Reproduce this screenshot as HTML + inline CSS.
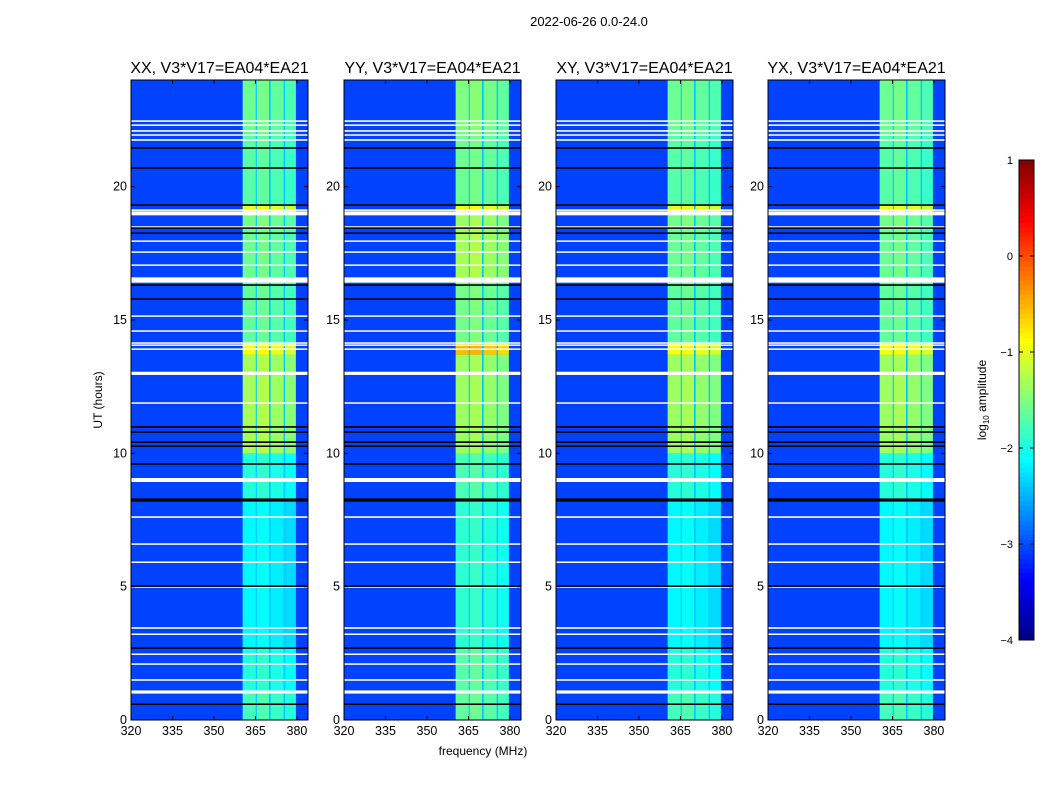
<!DOCTYPE html>
<html><head><meta charset="utf-8"><style>
body{margin:0;background:#fff;width:1050px;height:800px;overflow:hidden;font-family:"Liberation Sans",sans-serif}
</style></head><body>
<svg id="fig" width="1050" height="800" xmlns="http://www.w3.org/2000/svg" font-family="Liberation Sans, sans-serif">
<text x="589" y="26" font-size="13" text-anchor="middle">2022-06-26 0.0-24.0</text>
<text x="483" y="755" font-size="12" text-anchor="middle">frequency (MHz)</text>
<text x="102" y="400" font-size="12" text-anchor="middle" transform="rotate(-90 102 400)">UT (hours)</text>
<g id="panels"></g>
<g id="cbar"></g>
<text x="986" y="400" font-size="12" text-anchor="middle" transform="rotate(-90 986 400)">log<tspan font-size="8" dy="3">10</tspan><tspan dy="-3"> amplitude</tspan></text>
</svg>
<script>
const panelTitles=["XX, V3*V17=EA04*EA21","YY, V3*V17=EA04*EA21","XY, V3*V17=EA04*EA21","YX, V3*V17=EA04*EA21"];
const panelLefts=[131,344,556,768];
const xTicks=[320,335,350,365,380];
const yTicks=[0,5,10,15,20];
const cbTicks=[1,0,-1,-2,-3,-4];
const background=-3.05;
const separator=-2.4;
const bandStart=[360.4,365.5,370.5,375.7];
const bandEnd=[365.1,369.9,375.2,379.6];
const bandOffset=[0.05,0.1,0,-0.1];
const segStart=[0,1.1,2.7,5,8.2,10,13.7,14.1,16.4,18.3,19,19.3,22];
const segEnd=[1.1,2.7,5,8.2,10,13.7,14.1,16.4,18.3,19,19.3,22,24];
const xxVals=[-1.85,-2.0,-2.2,-2.2,-2.0,-1.35,-0.95,-1.7,-1.65,-1.6,-1.0,-1.75,-1.65];
const yyVals=[-1.7,-1.75,-1.95,-1.95,-1.8,-1.4,-0.6,-1.6,-1.35,-1.4,-1.0,-1.65,-1.55];
const xyVals=[-1.85,-2.0,-2.2,-2.2,-2.0,-1.4,-0.95,-1.7,-1.65,-1.6,-1.0,-1.75,-1.65];
const yxVals=[-1.85,-2.0,-2.2,-2.2,-2.0,-1.4,-0.95,-1.7,-1.65,-1.6,-1.0,-1.75,-1.65];
const whiteHours=[22.46,22.31,22.09,21.94,21.75,19.12,19.0,18.49,17.96,17.55,17.06,16.5,15.15,14.59,14.14,14.06,13.91,13.0,11.89,9.0,7.61,6.6,5.92,4.99,3.45,3.22,2.47,2.1,1.5,1.05];
const whiteWidth=[0.06,0.05,0.06,0.05,0.06,0.06,0.15,0.05,0.05,0.05,0.05,0.2,0.05,0.05,0.05,0.05,0.05,0.12,0.05,0.15,0.06,0.05,0.05,0.06,0.06,0.05,0.05,0.05,0.06,0.12];
const blackHours=[21.45,20.7,19.31,18.45,18.26,16.31,15.79,10.99,10.8,10.42,10.27,9.6,8.25,5.02,2.7,0.6];
const blackWidth=[0.06,0.06,0.06,0.05,0.05,0.06,0.05,0.06,0.05,0.06,0.05,0.06,0.12,0.06,0.05,0.04];
const allVals=[xxVals,yyVals,xyVals,yxVals];
const NS="http://www.w3.org/2000/svg";
const PW=177,TOP=80,BOT=720,FMIN=320,FMAX=384,HMAX=24;
function jet(v){let t=(v+4)/5;t=Math.max(0,Math.min(1,t));const c=x=>Math.round(255*Math.max(0,Math.min(1,1.5-Math.abs(4*t-x))));return `rgb(${c(3)},${c(2)},${c(1)})`;}
function el(tag,attrs,parent){const e=document.createElementNS(NS,tag);for(const k in attrs)e.setAttribute(k,attrs[k]);parent.appendChild(e);return e;}
const yS=h=>BOT-(h/HMAX)*(BOT-TOP);
const panels=document.getElementById('panels');
panelLefts.forEach((L,p)=>{
  const xS=f=>L+(f-FMIN)/(FMAX-FMIN)*PW;
  const g=el('g',{},panels);
  
  
  const bg=el('rect',{x:L,y:TOP,width:PW,height:BOT-TOP,fill:jet(background)},g);
  
  
  const sp=el('rect',{x:xS(bandStart[0]),y:TOP,width:xS(bandEnd[bandEnd.length-1])-xS(bandStart[0]),height:BOT-TOP,fill:jet(separator)},g);
  
  
  const vals=allVals[p];
  segStart.forEach((s,i)=>{bandStart.forEach((b,j)=>{
    const r=el('rect',{x:xS(b),y:yS(segEnd[i]),width:xS(bandEnd[j])-xS(b),height:yS(s)-yS(segEnd[i]),fill:jet(vals[i]+bandOffset[j])},g);
    
    
  });});
  whiteHours.forEach((h,i)=>{const r=el('rect',{x:L,y:yS(h+whiteWidth[i]/2),width:PW,height:Math.max(1.5,yS(h-whiteWidth[i]/2)-yS(h+whiteWidth[i]/2)),fill:'#fff'},g);
    
    });
  blackHours.forEach((h,i)=>{const r=el('rect',{x:L,y:yS(h+blackWidth[i]/2),width:PW,height:Math.max(1.5,yS(h-blackWidth[i]/2)-yS(h+blackWidth[i]/2)),fill:'#000'},g);
    
    });
  const fr=el('rect',{x:L,y:TOP,width:PW,height:BOT-TOP,fill:'none',stroke:'#000','stroke-width':1},g);
  
  
  const t=el('text',{x:L+PW/2,y:TOP-7,'font-size':16,'text-anchor':'middle'},g);t.textContent=panelTitles[p];
  
  
  xTicks.forEach(v=>{const x=xS(v);el('line',{x1:x,x2:x,y1:BOT,y2:BOT-4,stroke:'#000'},g);el('line',{x1:x,x2:x,y1:TOP,y2:TOP+4,stroke:'#000'},g);
    const tt=el('text',{x:x,y:BOT+15,'font-size':12.5,'text-anchor':'middle'},g);tt.textContent=v;
    
    });
  yTicks.forEach(v=>{const y=yS(v);el('line',{x1:L,x2:L+4,y1:y,y2:y,stroke:'#000'},g);el('line',{x1:L+PW,x2:L+PW-4,y1:y,y2:y,stroke:'#000'},g);
    const tt=el('text',{x:L-4,y:y+4,'font-size':12.5,'text-anchor':'end'},g);tt.textContent=v;
    
    });
});
const cb=document.getElementById('cbar');
const CX=1019,CW=15,CT=160,CB=640;
const cbY=v=>CB-(v+4)/5*(CB-CT);
for(let i=0;i<100;i++){const v0=-4+5*i/100,v1=-4+5*(i+1)/100;el('rect',{x:CX,y:cbY(v1),width:CW,height:cbY(v0)-cbY(v1)+0.5,fill:jet((v0+v1)/2)},cb);}
el('rect',{x:CX,y:CT,width:CW,height:CB-CT,fill:'none',stroke:'#000'},cb);
cbTicks.forEach(v=>{const y=cbY(v);el('line',{x1:CX,x2:CX+4,y1:y,y2:y,stroke:'#000'},cb);el('line',{x1:CX+CW,x2:CX+CW-4,y1:y,y2:y,stroke:'#000'},cb);
  const tt=el('text',{x:CX-6,y:y+4,'font-size':11,'text-anchor':'end'},cb);tt.textContent=v<0?'\u2212'+(-v):v;
  
  });
</script>
</body></html>
